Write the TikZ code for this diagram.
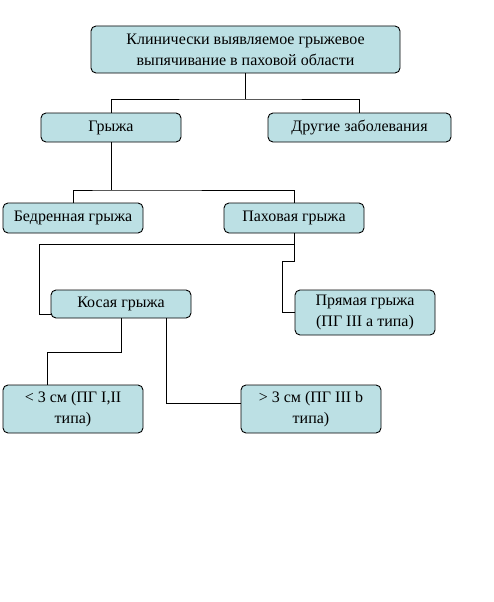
\documentclass[tikz,border=0pt]{standalone}
\usepackage{fontspec}
\setmainfont{Liberation Serif}
\definecolor{boxfill}{RGB}{188,224,228}
\begin{document}
\begin{tikzpicture}[x=1pt,y=-1pt,
  box/.style={draw=black,line width=0.9pt,fill=boxfill,rounded corners=5pt,
    align=center,inner sep=1pt,font=\fontsize{16}{21}\selectfont},
  conn/.style={draw=black,line width=0.9pt}]
\useasboundingbox (0,0) rectangle (494,602);
\node[box,minimum width=309pt,minimum height=47pt] (top) at (245.5,49.5)
  {Клинически выявляемое грыжевое\\выпячивание в паховой области};
\node[box,minimum width=140pt,minimum height=29pt] (g) at (111,127.5) {Грыжа};
\node[box,minimum width=183pt,minimum height=29pt] (o) at (359.5,127.5) {Другие заболевания};
\node[box,minimum width=140pt,minimum height=30pt] (b) at (73,218) {Бедренная грыжа};
\node[box,minimum width=140pt,minimum height=30pt] (p) at (294,218) {Паховая грыжа};
\node[box,minimum width=140pt,minimum height=28pt] (k) at (121,304) {Косая грыжа};
\node[box,minimum width=140pt,minimum height=45pt] (pr) at (365,312.5) {Прямая грыжа\\(ПГ III а типа)};
\node[box,minimum width=140pt,minimum height=48pt] (s1) at (73,409) {< 3 см (ПГ I,II\\типа)};
\node[box,minimum width=140pt,minimum height=48pt] (s2) at (311,409) {> 3 см (ПГ III b\\типа)};
\coordinate (j1) at (245.5,99);
\coordinate (j2) at (111,190);
\coordinate (c1) at (39,244);
\coordinate (c2) at (282,261);
\coordinate (c3) at (47,352);
\draw[conn] (top.south) -- (j1);
\draw[conn] (g.north) |- (j1) -| (o.north);
\draw[conn] (g.south) -- (j2);
\draw[conn] (b.north) |- (j2) -| (p.north);
\draw[conn] (p.south) |- (c1) |- ([yshift=-10pt]k.west);
\draw[conn] (p.south) |- (c2) |- (pr.west);
\draw[conn] (k.south) |- (c3) -- (c3 |- s1.north);
\draw[conn] ([xshift=45pt]k.south) |- ([yshift=6pt]s2.west);
\end{tikzpicture}
\end{document}
